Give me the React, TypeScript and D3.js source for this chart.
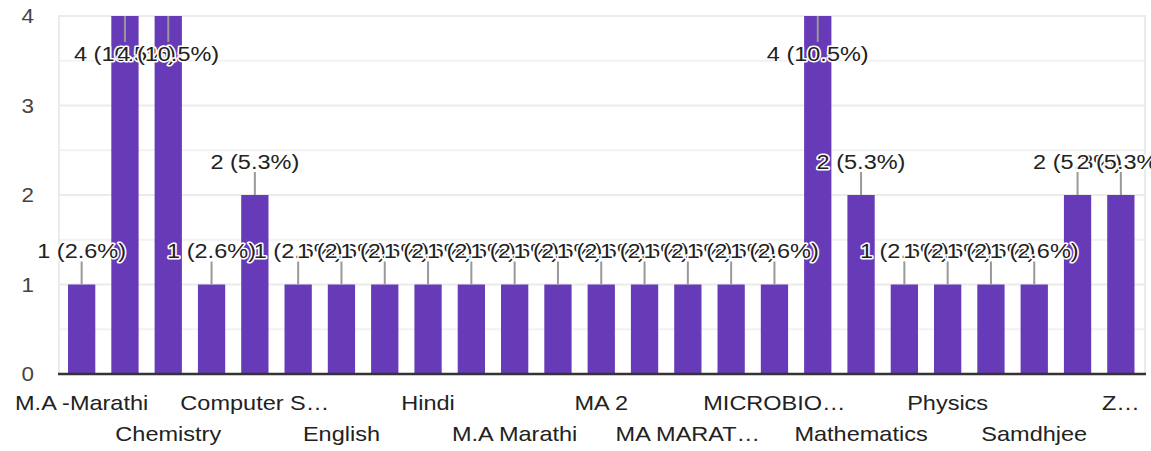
import React from 'react'
import * as d3 from 'd3'

// answers, in the order the form lists them (every second label is hidden by the chart)
const categories = [
	'M.A -Marathi', 'B.A', 'Chemistry', 'Commerce', 'Computer S…', 'Economics', 'English',
	'Geography', 'Hindi', 'History', 'M.A Marathi', 'M.Sc', 'MA 2', 'MA ENGLISH', 'MA MARAT…',
	'MARATHI', 'MICROBIO…', 'Marathi', 'Mathematics', 'Physic', 'Physics', 'Political Science',
	'Samdhjee', 'Sanskrit', 'Z…',
]
const counts = [1, 4, 4, 1, 2, 1, 1, 1, 1, 1, 1, 1, 1, 1, 1, 1, 1, 4, 2, 1, 1, 1, 1, 2, 2]
const yTicks = [0, 1, 2, 3, 4]

const WIDTH = 1151
const HEIGHT = 451
const SX = 1.12 // the source chart is stretched sideways, so draw narrow and stretch
const VW = WIDTH / SX
const FONT = '"Liberation Sans", Arial, sans-serif'

const App = () => {
	const total = d3.sum(counts)

	const x = d3
		.scaleBand<number>()
		.domain(d3.range(categories.length))
		.range([60 / SX, 1142.5 / SX])
		.paddingInner(0.37)
		.paddingOuter(0.185)

	const y = d3.scaleLinear().domain([0, 4]).range([374, 16])

	const gridVals = d3.range(0.5, 4.01, 0.5)
	const left = 59 / SX
	const right = 1145 / SX

	// annotation placement: above the bar, or inside it when there's no room
	const notes = counts.map((v, i) => {
		const top = y(v)
		const cx = (x(i) ?? 0) + x.bandwidth() / 2
		const inside = top < 45
		return {
			cx,
			text: `${v} (${((v / total) * 100).toFixed(1)}%)`,
			base: inside ? top + 45.5 : top - 26,
			s1: top,
			s2: inside ? top + 26 : top - 23,
		}
	})

	return (
		<svg
			width={WIDTH}
			height={HEIGHT}
			viewBox={`0 0 ${VW} ${HEIGHT}`}
			preserveAspectRatio="none"
			style={{ position: 'absolute', left: 0, top: 0, background: '#fff' }}
			fontFamily={FONT}
		>
			{/* grid */}
			{gridVals.map(g => (
				<line
					key={g}
					x1={left}
					x2={right}
					y1={y(g)}
					y2={y(g)}
					stroke={Number.isInteger(g) ? '#ebebeb' : '#f2f2f2'}
					strokeWidth={2}
				/>
			))}
			{[left, right].map(lx => (
				<line key={lx} x1={lx} x2={lx} y1={y(4) - 1} y2={y(0)} stroke="#ebebeb" strokeWidth={2 / SX} />
			))}

			{/* bars */}
			{counts.map((v, i) => (
				<rect key={i} x={x(i)} y={y(v)} width={x.bandwidth()} height={y(0) - y(v)} fill="#673ab7" />
			))}

			{/* baseline */}
			<line x1={58 / SX} x2={1146 / SX} y1={y(0)} y2={y(0)} stroke="#333" strokeWidth={2.5} />

			{/* y ticks */}
			{yTicks.map(t => (
				<text key={t} x={34 / SX} y={y(t)} dy="0.36em" textAnchor="end" fontSize={20} fill="#444">
					{t}
				</text>
			))}

			{/* x labels, every other category on two rows */}
			{categories.map((c, i) =>
				i % 2 === 0 ? (
					<text
						key={c}
						x={(x(i) ?? 0) + x.bandwidth() / 2}
						y={i % 4 === 0 ? 410 : 441}
						textAnchor="middle"
						fontSize={21}
						fill="#222"
					>
						{c}
					</text>
				) : null
			)}

			{/* annotation stems */}
			{notes.map((n, i) => (
				<line key={i} x1={n.cx} x2={n.cx} y1={n.s1} y2={n.s2} stroke="#999" strokeWidth={2 / SX} />
			))}

			{/* annotation labels, drawn in order so later ones cover earlier */}
			{notes.map((n, i) => (
				<text
					key={i}
					x={n.cx}
					y={n.base}
					textAnchor="middle"
					fontSize={21}
					fill="#222"
					stroke="#fff"
					strokeWidth={3}
					strokeLinejoin="round"
					style={{ paintOrder: 'stroke' }}
				>
					{n.text}
				</text>
			))}
		</svg>
	)
}

export default App
